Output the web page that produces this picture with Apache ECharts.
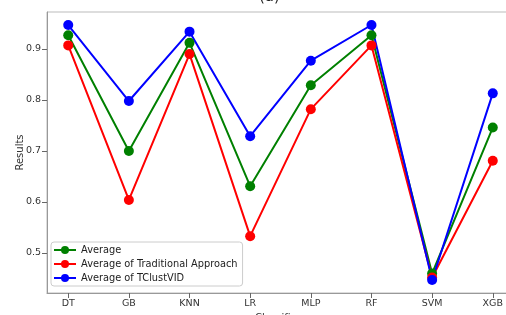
<!DOCTYPE html>
<html><head><meta charset="utf-8">
<script src="https://cdn.jsdelivr.net/npm/echarts@6/dist/echarts.min.js"></script>
<style>html,body{margin:0;padding:0;background:#fff}#c{width:506px;height:315px}</style>
</head><body><div id="c"></div>
<script>
const categories = ['DT','GB','KNN','LR','MLP','RF','SVM','XGB'];
const average = [0.927,0.700,0.912,0.631,0.829,0.927,0.460,0.746];
const traditional = [0.907,0.604,0.890,0.533,0.782,0.907,0.452,0.681];
const tclustvid = [0.947,0.798,0.934,0.729,0.877,0.947,0.447,0.813];
const yTicks = [0.5,0.6,0.7,0.8,0.9];

const font = 'DejaVu Sans';
const xIdx = categories.map((c,i)=>i);
const chart = echarts.init(document.getElementById('c'));
function s(name, data, color){
  return {name, type:'line', data:data.map((v,i)=>[i,v]), symbol:'circle', symbolSize:10,
    lineStyle:{color, width:2}, itemStyle:{color}, color, animation:false};
}
chart.setOption({
  animation:false,
  title:{text:'(a)', left:254, top:-15, textStyle:{fontFamily:font, fontSize:15, fontWeight:'normal', color:'#222'}},
  grid:{left:47, top:12, right:-8, bottom:22, containLabel:false, outerBoundsMode:'none', show:true, borderColor:'#bbb', borderWidth:1},
  legend:{orient:'vertical', left:51, top:242, itemWidth:22, itemHeight:10, itemGap:4,
    backgroundColor:'#fff', borderColor:'#ccc', borderWidth:1, borderRadius:3, padding:[3,5,3,2],
    textStyle:{fontFamily:font, fontSize:9.8, color:'#222'},
    data:['Average','Average of Traditional Approach','Average of TClustVID']},
  xAxis:{type:'value', min:-0.35, max:7.35,
    name:'Classifiers', nameLocation:'middle', nameGap:20, nameMoveOverlap:false,
    nameTextStyle:{fontFamily:font, fontSize:10, color:'#333'},
    splitLine:{show:false},
    axisLine:{show:true, onZero:false, lineStyle:{color:'#999'}},
    axisTick:{show:true, customValues:xIdx, lineStyle:{color:'#666'}},
    axisLabel:{customValues:xIdx, fontFamily:font, fontSize:9.5, color:'#333', margin:6, formatter:v=>categories[Math.round(v)]}},
  yAxis:{type:'value', min:0.4216, max:0.9725,
    name:'Results', nameLocation:'middle', nameGap:22, nameMoveOverlap:false,
    nameTextStyle:{fontFamily:font, fontSize:10, color:'#333'},
    splitLine:{show:false},
    axisLine:{show:true, onZero:false, lineStyle:{color:'#999'}},
    axisTick:{show:true, customValues:yTicks, lineStyle:{color:'#666'}},
    axisLabel:{customValues:yTicks, fontFamily:font, fontSize:9.5, color:'#333', margin:6, formatter:v=>v.toFixed(1)}},
  series:[s('Average', average, '#008000'), s('Average of Traditional Approach', traditional, '#ff0000'), s('Average of TClustVID', tclustvid, '#0000ff')]
});
</script></body></html>
